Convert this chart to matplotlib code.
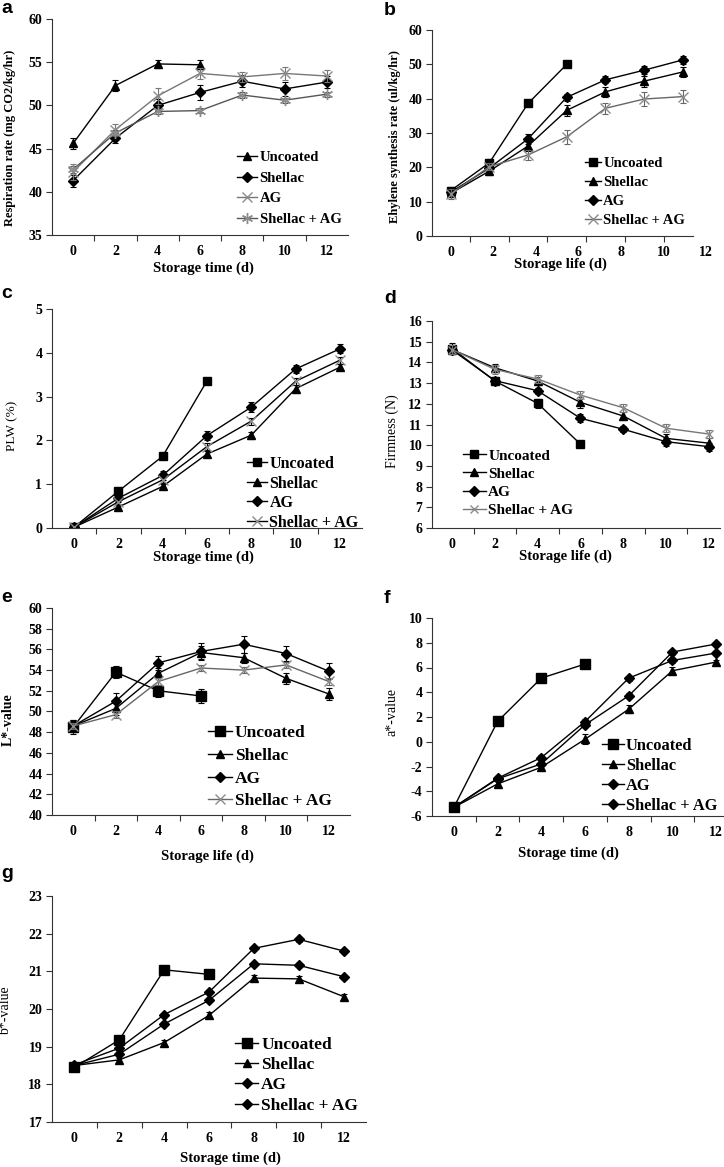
import numpy as np
import matplotlib
matplotlib.use('Agg')
import matplotlib.pyplot as plt

plt.rcParams['font.family'] = ['Liberation Serif', 'DejaVu Serif']
plt.rcParams['font.weight'] = 'bold'
plt.rcParams['axes.unicode_minus'] = False

W, H = 724, 1167

days = [0, 2, 4, 6, 8, 10, 12]
idx = np.arange(len(days))
idx_unc = idx[:4]

# a: respiration rate
resp_unc = [45.6, 52.3, 54.8, 54.7]
resp_unc_err = [0.6, 0.6, 0.5, 0.5]
resp_shellac = [41.3, 46.2, 50.0, 51.5, 52.8, 51.9, 52.7]
resp_shellac_err = [0.7, 0.6, 0.7, 0.9, 0.7, 0.8, 0.7]
resp_ag = [42.3, 47.2, 51.1, 53.7, 53.3, 53.7, 53.4]
resp_ag_err = [0.9, 0.6, 0.9, 0.6, 0.6, 0.8, 0.7]
resp_shellac_ag = [42.6, 46.8, 49.3, 49.4, 51.2, 50.6, 51.3]
resp_shellac_ag_err = [0.4, 0.3, 0.3, 0.3, 0.3, 0.3, 0.3]

# b: ethylene synthesis rate
eth_unc = [13.2, 21.3, 38.6, 50.0]
eth_unc_err = [1.0, 1.0, 0.8, 0.8]
eth_shellac = [12.4, 18.9, 26.2, 36.6, 42.0, 45.1, 47.8]
eth_shellac_err = [1.0, 1.0, 1.5, 1.6, 1.5, 1.6, 1.4]
eth_ag = [12.7, 19.8, 28.3, 40.4, 45.5, 48.3, 51.3]
eth_ag_err = [1.0, 0.8, 1.5, 1.0, 1.0, 1.2, 1.2]
eth_shellac_ag = [12.2, 20.2, 23.6, 28.9, 37.2, 39.9, 40.6]
eth_shellac_ag_err = [1.5, 1.0, 1.5, 2.0, 1.6, 2.0, 1.8]

# c: PLW
plw_unc = [0.02, 0.84, 1.64, 3.36]
plw_unc_err = [0.03, 0.08, 0.07, 0.07]
plw_shellac = [0.02, 0.48, 0.95, 1.69, 2.12, 3.18, 3.67]
plw_shellac_err = [0.02, 0.05, 0.06, 0.06, 0.08, 0.09, 0.07]
plw_ag = [0.02, 0.68, 1.2, 2.11, 2.76, 3.63, 4.09]
plw_ag_err = [0.02, 0.08, 0.1, 0.1, 0.11, 0.1, 0.1]
plw_shellac_ag = [0.02, 0.6, 1.1, 1.86, 2.44, 3.35, 3.83]
plw_shellac_ag_err = [0.02, 0.06, 0.07, 0.08, 0.08, 0.08, 0.08]

# d: firmness
firm_unc = [14.67, 13.1, 12.02, 10.05]
firm_unc_err = [0.25, 0.2, 0.2, 0.08]
firm_shellac = [14.62, 13.74, 13.1, 12.07, 11.41, 10.33, 10.1]
firm_shellac_err = [0.2, 0.2, 0.2, 0.25, 0.2, 0.2, 0.25]
firm_ag = [14.6, 13.12, 12.63, 11.3, 10.77, 10.17, 9.93]
firm_ag_err = [0.2, 0.15, 0.15, 0.2, 0.15, 0.2, 0.2]
firm_shellac_ag = [14.62, 13.66, 13.2, 12.42, 11.81, 10.82, 10.54]
firm_shellac_ag_err = [0.2, 0.2, 0.2, 0.2, 0.2, 0.2, 0.2]

# e: L* value
l_unc = [48.5, 53.8, 52.0, 51.5]
l_unc_err = [0.7, 0.6, 0.6, 0.7]
l_shellac = [48.6, 50.3, 53.7, 55.7, 55.2, 53.2, 51.7]
l_shellac_err = [0.5, 0.6, 0.5, 0.6, 0.5, 0.5, 0.6]
l_ag = [48.6, 51.0, 54.7, 55.8, 56.5, 55.6, 53.9]
l_ag_err = [0.6, 0.8, 0.7, 0.8, 0.8, 0.7, 0.8]
l_shellac_ag = [48.6, 49.7, 52.9, 54.2, 54.0, 54.5, 52.9]
l_shellac_ag_err = [0.3, 0.3, 0.3, 0.3, 0.3, 0.3, 0.3]

# f: a* value
a_unc = [-5.3, 1.64, 5.14, 6.28]
a_unc_err = [0.2, 0.2, 0.2, 0.2]
a_shellac = [-5.3, -3.41, -2.06, 0.2, 2.63, 5.74, 6.44]
a_shellac_err = [0.2, 0.2, 0.2, 0.4, 0.3, 0.3, 0.2]
a_ag = [-5.3, -2.95, -1.28, 1.63, 5.14, 6.57, 7.17]
a_ag_err = [0.2, 0.2, 0.2, 0.2, 0.2, 0.2, 0.2]
a_shellac_ag = [-5.3, -3.0, -1.79, 1.37, 3.71, 7.25, 7.9]
a_shellac_ag_err = [0.2, 0.2, 0.2, 0.2, 0.2, 0.2, 0.2]

# g: b* value
b_unc = [18.45, 19.18, 21.04, 20.92]
b_unc_err = [0.05, 0.06, 0.06, 0.06]
b_shellac = [18.5, 18.65, 19.11, 19.83, 20.82, 20.8, 20.33]
b_shellac_err = [0.05, 0.06, 0.08, 0.08, 0.08, 0.07, 0.08]
b_ag = [18.5, 18.8, 19.6, 20.23, 21.2, 21.16, 20.86]
b_ag_err = [0.05, 0.05, 0.05, 0.05, 0.05, 0.05, 0.05]
b_shellac_ag = [18.52, 18.96, 19.85, 20.45, 21.61, 21.85, 21.54]
b_shellac_ag_err = [0.05, 0.05, 0.05, 0.05, 0.05, 0.06, 0.06]

fig = plt.figure(figsize=(W / 100, H / 100), dpi=100)
GRAY = '#8c8c8c'
TICK = 10


def make_axes(l, r, t, b):
    return fig.add_axes([l / W, 1 - b / H, (r - l) / W, (b - t) / H])


def style_axes(ax, ylim, ystep, xlim, labels=True):
    ax.set_ylim(*ylim)
    ax.set_yticks(np.arange(ylim[0], ylim[1] + ystep / 2, ystep))
    ax.set_xlim(*xlim)
    ax.set_xticks(idx)
    ax.set_xticklabels(days if labels else [''] * 7)
    ax.set_xticks(np.arange(0.5, 6, 1), minor=True)
    for s in ['top', 'right']:
        ax.spines[s].set_visible(False)
    for s in ['left', 'bottom']:
        ax.spines[s].set_linewidth(0.8)
        ax.spines[s].set_color('#333333')
    ax.tick_params(axis='x', which='major', length=0, pad=7, labelsize=TICK)
    ax.tick_params(axis='x', which='minor', length=4, width=0.8, color='#333333')
    ax.tick_params(axis='y', length=4, width=0.8, pad=3, labelsize=TICK, color='#333333')


def series(ax, x, y, err, marker, ms, mcolor, lcolor, label, mew=1.0):
    ax.errorbar(x, y, yerr=err, fmt='none', ecolor=lcolor, elinewidth=0.8,
                capsize=2.5, capthick=0.8)
    ax.plot(x, y, color=lcolor, lw=1.0, marker=marker, ms=ms, mfc=mcolor,
            mec=mcolor, mew=mew, label=label)


def legend(ax, x, y, size, spacing, hl, pad=0.15):
    ax.legend(loc='upper left', bbox_to_anchor=(x / W, 1 - y / H),
              bbox_transform=fig.transFigure, frameon=False,
              prop={'size': size, 'weight': 'bold'}, labelspacing=spacing,
              handlelength=hl, handletextpad=pad, borderpad=0, borderaxespad=0)


def labels(letter, lx, ly, xlabel, xx, xy, ylabel, yx, yy, ysize, yweight):
    fig.text(lx / W, 1 - ly / H, letter, family='Liberation Sans',
             weight='bold', size=14, va='baseline', ha='left')
    fig.text(xx / W, 1 - xy / H, xlabel, size=10.5, weight='bold',
             ha='center', va='center')
    fig.text(yx / W, 1 - yy / H, ylabel, size=ysize, weight=yweight,
             rotation=90, ha='center', va='center')


star = (6, 2, 0)

# a
ax = make_axes(52, 348, 19, 235)
style_axes(ax, (35, 60), 5, (-0.5, 6.5))
series(ax, idx_unc, resp_unc, resp_unc_err, '^', 6, 'black', 'black', 'Uncoated')
series(ax, idx, resp_shellac, resp_shellac_err, 'D', 5, 'black', 'black', 'Shellac')
series(ax, idx, resp_ag, resp_ag_err, 'x', 7, GRAY, '#777777', 'AG')
series(ax, idx, resp_shellac_ag, resp_shellac_ag_err, star, 8, GRAY, '#555555', 'Shellac + AG')
legend(ax, 237, 151, 10.5, 0.51, 1.4)
labels('a', 1, 13, 'Storage time (d)', 203, 268,
       'Respiration rate (mg CO2/kg/hr)', 10, 138, 9, 'bold')

# b
ax = make_axes(432, 693, 30, 236)
style_axes(ax, (0, 60), 10, (-0.48, 6.26), labels=False)
for i, d in enumerate(days):
    ax.text(i * 1.1, -16 / 206, str(d), transform=ax.get_xaxis_transform(),
            ha='center', va='center', size=TICK, clip_on=False)
series(ax, idx_unc, eth_unc, eth_unc_err, 's', 6, 'black', 'black', 'Uncoated')
series(ax, idx, eth_shellac, eth_shellac_err, '^', 6, 'black', 'black', 'Shellac')
series(ax, idx, eth_ag, eth_ag_err, 'D', 5, 'black', 'black', 'AG')
series(ax, idx, eth_shellac_ag, eth_shellac_ag_err, 'x', 7, GRAY, '#666666', 'Shellac + AG')
legend(ax, 585, 157, 10.5, 0.40, 1.1)
labels('b', 384, 15, 'Storage life (d)', 560, 264,
       'Ehylene synthesis rate (ul/kg/hr)', 395, 137, 9, 'bold')

# c
ax = make_axes(52, 362, 309, 528)
style_axes(ax, (0, 5), 1, (-0.5, 6.5))
series(ax, idx_unc, plw_unc, plw_unc_err, 's', 6, 'black', 'black', 'Uncoated')
series(ax, idx, plw_shellac, plw_shellac_err, '^', 6, 'black', 'black', 'Shellac')
series(ax, idx, plw_ag, plw_ag_err, 'D', 5, 'black', 'black', 'AG')
series(ax, idx, plw_shellac_ag, plw_shellac_ag_err, 'x', 7, GRAY, 'black', 'Shellac + AG')
legend(ax, 247, 456, 11.5, 0.22, 1.25)
labels('c', 1, 298, 'Storage time (d)', 203, 557,
       'PLW (%)', 12, 426, 9.5, 'normal')

# d
ax = make_axes(432, 720, 321, 528)
style_axes(ax, (6, 16), 1, (-0.47, 6.26))
series(ax, idx_unc, firm_unc, firm_unc_err, 's', 6, 'black', 'black', 'Uncoated')
series(ax, idx, firm_shellac, firm_shellac_err, '^', 6, 'black', 'black', 'Shellac')
series(ax, idx, firm_ag, firm_ag_err, 'D', 5, 'black', 'black', 'AG')
series(ax, idx, firm_shellac_ag, firm_shellac_ag_err, 'x', 6, GRAY, '#777777', 'Shellac + AG')
legend(ax, 463, 449, 11, 0.29, 1.5)
labels('d', 384, 303, 'Storage life (d)', 565, 556,
       'Firmness (N)', 392, 431, 10, 'normal')

# e
ax = make_axes(52, 350, 608, 815)
style_axes(ax, (40, 60), 2, (-0.5, 6.5))
series(ax, idx_unc, l_unc, l_unc_err, 's', 7, 'black', 'black', 'Uncoated')
series(ax, idx, l_shellac, l_shellac_err, '^', 6, 'black', 'black', 'Shellac')
series(ax, idx, l_ag, l_ag_err, 'D', 5, 'black', 'black', 'AG')
series(ax, idx, l_shellac_ag, l_shellac_ag_err, 'x', 7, GRAY, '#666666', 'Shellac + AG')
legend(ax, 208, 725, 12.5, 0.38, 1.4)
labels('e', 1, 602, 'Storage life (d)', 207, 856,
       'L*-value', 8, 720, 10, 'bold')

# f
ax = make_axes(432, 724, 618, 816)
style_axes(ax, (-6, 10), 2, (-0.5, 6.18))
series(ax, idx_unc, a_unc, a_unc_err, 's', 7, 'black', 'black', 'Uncoated')
series(ax, idx, a_shellac, a_shellac_err, '^', 6, 'black', 'black', 'Shellac')
series(ax, idx, a_ag, a_ag_err, 'D', 5, 'black', 'black', 'AG')
series(ax, idx, a_shellac_ag, a_shellac_ag_err, 'D', 5, 'black', 'black', 'Shellac + AG')
legend(ax, 602, 738, 11.8, 0.24, 1.35, pad=0.1)
labels('f', 384, 603, 'Storage time (d)', 568, 853,
       'a*-value', 392, 712, 10, 'normal')

# g
ax = make_axes(52, 366, 896, 1122)
style_axes(ax, (17, 23), 1, (-0.5, 6.5))
series(ax, idx_unc, b_unc, b_unc_err, 's', 7, 'black', 'black', 'Uncoated')
series(ax, idx, b_shellac, b_shellac_err, '^', 6, 'black', 'black', 'Shellac')
series(ax, idx, b_ag, b_ag_err, 'D', 5, 'black', 'black', 'AG')
series(ax, idx, b_shellac_ag, b_shellac_ag_err, 'D', 5, 'black', 'black', 'Shellac + AG')
legend(ax, 235, 1037, 12.5, 0.23, 1.35)
labels('g', 1, 878, 'Storage time (d)', 230, 1158,
       'b*-value', 6, 1011, 10, 'normal')

fig.savefig('out.png', dpi=100)
